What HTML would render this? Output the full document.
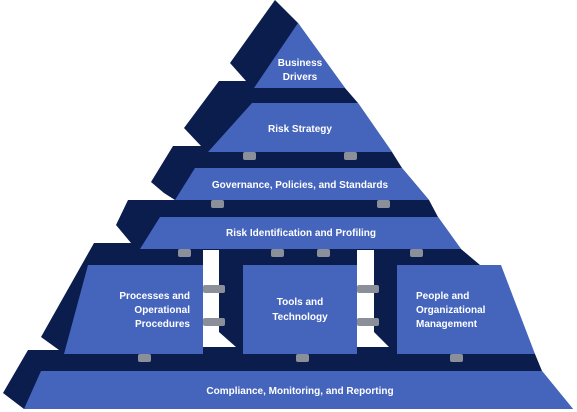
<!DOCTYPE html>
<html><head><meta charset="utf-8"><style>
html,body{margin:0;padding:0;background:#fff;}
svg{display:block;}
text{font-family:"Liberation Sans",sans-serif;font-weight:bold;font-size:10px;fill:#fff;text-anchor:middle;}
</style></head><body>
<svg width="577" height="412" viewBox="0 0 577 412">
<polygon fill="#0a1d4d" points="275,0 298,23 345,88 358,103 392,152 402,168 429,200 438,217 461,249 480,265 535,354 542,371 573,409 24,409 3,393 28,350 59,350 41,337 94,243 131,243 116,225 128,200 175,200 164,193 151,182 173,146 201,146 184,128 219,81 246,81 230,63"/>
<polygon fill="#fff" points="203,250 219,250 219,332 236,347 203,347"/>
<polygon fill="#fff" points="357,250 374,250 374,332 389,347 357,347"/>
<g fill="#4565bd">
<polygon points="298,23 345,88 254,88"/>
<polygon points="252,103 358,103 392,152 208,152"/>
<polygon points="195,168 402,168 429,200 175,200"/>
<polygon points="160,217 438,217 461,249 140,249"/>
<polygon points="88,265 203,265 203,354 64,354"/>
<rect x="243" y="265" width="114" height="89"/>
<polygon points="397,265 501,265 535,354 397,354"/>
<polygon points="41,371 542,371 573,409 24,409"/>
</g>
<g fill="#8a8f9a">
<rect x="243" y="152" width="13" height="8" rx="2"/><rect x="344" y="152" width="13" height="8" rx="2"/>
<rect x="211" y="200" width="13" height="8" rx="2"/><rect x="377" y="200" width="13" height="8" rx="2"/>
<rect x="178" y="249" width="13" height="8" rx="2"/><rect x="271" y="249" width="13" height="8" rx="2"/>
<rect x="317" y="249" width="13" height="8" rx="2"/><rect x="410" y="249" width="13" height="8" rx="2"/>
<rect x="138" y="354" width="13" height="8" rx="2"/><rect x="296" y="354" width="13" height="8" rx="2"/>
<rect x="450" y="354" width="13" height="8" rx="2"/>
<rect x="203" y="285" width="22" height="8" rx="2"/><rect x="203" y="318" width="22" height="8" rx="2"/>
<rect x="357" y="285" width="22" height="8" rx="2"/><rect x="357" y="318" width="22" height="8" rx="2"/>
</g>
<text x="300" y="66">Business</text>
<text x="300" y="80">Drivers</text>
<text x="300" y="132">Risk Strategy</text>
<text x="300" y="188">Governance, Policies, and Standards</text>
<text x="301" y="236">Risk Identification and Profiling</text>
<text x="190" y="299" style="text-anchor:end">Processes and</text>
<text x="190" y="313" style="text-anchor:end">Operational</text>
<text x="190" y="327" style="text-anchor:end">Procedures</text>
<text x="300" y="305">Tools and</text>
<text x="300" y="320">Technology</text>
<text x="416" y="299" style="text-anchor:start">People and</text>
<text x="416" y="313" style="text-anchor:start">Organizational</text>
<text x="416" y="327" style="text-anchor:start">Management</text>
<text x="300" y="394">Compliance, Monitoring, and Reporting</text>
</svg>
</body></html>
